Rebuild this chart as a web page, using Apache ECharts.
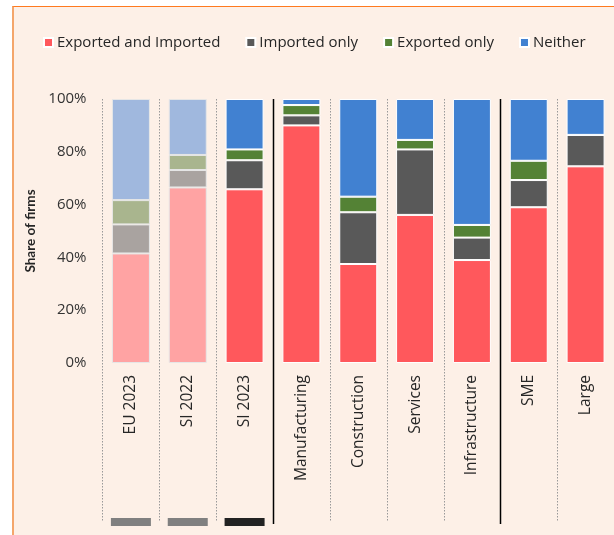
<!DOCTYPE html>
<html>
<head>
<meta charset="utf-8">
<script src="https://cdn.jsdelivr.net/npm/echarts@6/dist/echarts.min.js"></script>
<style>
  html, body { margin: 0; padding: 0; background: #ffffff; }
  #frame { position: absolute; left: 12px; top: 6px; width: 600px; height: 529px;
           background: #FDF0E7; border-top: 1px solid #FF7A1F; border-left: 2px solid #F4A66B; }
  #chart { position: absolute; left: 0; top: 0; width: 614px; height: 535px; }
</style>
</head>
<body>
<div id="frame"></div>
<div id="chart"></div>
<script>
// ---- data (shares of firms, %) ----
const categories = ['EU 2023', 'SI 2022', 'SI 2023', 'Manufacturing', 'Construction', 'Services', 'Infrastructure', 'SME', 'Large'];
const seriesNames = ['Exported and Imported', 'Imported only', 'Exported only', 'Neither'];
const exportedAndImported = [41.5, 66.5, 65.8, 90.0, 37.5, 56.1, 39.0, 59.0, 74.5];
const importedOnly        = [11.0,  6.6, 11.0,  3.8, 19.6, 24.8,  8.5, 10.3, 11.9];
const exportedOnly        = [ 9.2,  5.7,  4.1,  3.9,  5.9,  3.6,  4.8,  7.3,  0.0];
const neither             = [38.3, 21.2, 19.1,  2.3, 37.0, 15.5, 47.7, 23.4, 13.6];
const yTicks = [0, 20, 40, 60, 80, 100];
// category boundaries: solid group separators before these indices
const groupStarts = [3, 7];
// highlighted comparison columns (bottom markers)
const markerIdx = [0, 1, 2];
// faded (comparison) columns
const fadedIdx = [0, 1];

const colors = ['#FF585C', '#595959', '#548235', '#4181D1'];
const fadedColors = ['#FFA3A3', '#A9A3A0', '#A9B58E', '#A0B8DE'];
const markerColors = ['#808080', '#808080', '#222222'];

const values = [exportedAndImported, importedOnly, exportedOnly, neither];
const FONT = 'Open Sans';

const barSeries = values.map((arr, s) => ({
  name: seriesNames[s],
  type: 'bar',
  stack: 'total',
  xAxisIndex: 0, yAxisIndex: 0,
  barWidth: 38,
  itemStyle: { color: colors[s], borderColor: '#ffffff', borderWidth: 1 },
  data: arr.map((v, i) => fadedIdx.includes(i)
    ? { value: v, itemStyle: { color: fadedColors[s], borderColor: '#E6E6E6' } }
    : v)
}));

const separatorSeries = {
  type: 'custom',
  xAxisIndex: 1, yAxisIndex: 1,
  silent: true,
  clip: false,
  data: categories.map((c, i) => [i]),
  renderItem: function (params, api) {
    const idx = api.value(0);
    const band = api.size([1, 0])[0];
    const top = api.coord([idx, 1]);
    const bot = api.coord([idx, 0]);
    const x = Math.round(top[0] - band / 2) + 0.5;
    const solid = groupStarts.includes(idx);
    return {
      type: 'line',
      shape: { x1: x, y1: top[1], x2: x, y2: solid ? bot[1] + 2 : bot[1] },
      style: solid
        ? { stroke: '#000000', lineWidth: 1.5 }
        : { stroke: '#999999', lineWidth: 1, lineDash: [1.5, 1.5] }
    };
  }
};

const markerSeries = {
  type: 'custom',
  xAxisIndex: 1, yAxisIndex: 1,
  silent: true,
  clip: false,
  data: markerIdx.map(i => [i]),
  renderItem: function (params, api) {
    const idx = api.value(0);
    const bot = api.coord([idx, 0]);
    return {
      type: 'rect',
      shape: { x: bot[0] - 20, y: bot[1] - 4, width: 40, height: 8 },
      style: { fill: markerColors[params.dataIndex] }
    };
  }
};

const chart = echarts.init(document.getElementById('chart'), null, { renderer: 'canvas' });
chart.setOption({
  backgroundColor: 'transparent',
  animation: false,
  textStyle: { fontFamily: FONT },
  legend: {
    data: seriesNames,
    left: 38, top: 30,
    icon: 'rect',
    itemWidth: 9, itemHeight: 9,
    itemGap: 25,
    textStyle: { fontFamily: FONT, fontSize: 15, color: '#262626', padding: [0, 0, 0, -1] }
  },
  grid: [
    { left: 102.5, top: 99, width: 516, height: 264 },
    { left: 102.5, top: 99, width: 516, height: 423 }
  ],
  xAxis: [
    {
      type: 'category', gridIndex: 0, data: categories,
      axisLine: { show: false }, axisTick: { show: false },
      axisLabel: { rotate: 90, margin: 12, fontSize: 15.5, color: '#262626', fontFamily: FONT, interval: 0 }
    },
    { type: 'category', gridIndex: 1, data: categories, show: false }
  ],
  yAxis: [
    {
      type: 'value', gridIndex: 0, min: 0, max: 100, interval: 20,
      name: 'Share of firms', nameLocation: 'middle', nameGap: 61, nameRotate: 90,
      nameTextStyle: { fontFamily: 'Lato', fontSize: 13.5, fontWeight: 'bold', color: '#262626' },
      axisLine: { show: false }, axisTick: { show: false }, splitLine: { show: false },
      axisLabel: { margin: 16, fontSize: 15, color: '#333333', fontFamily: FONT,
        formatter: v => yTicks.includes(v) ? v + '%' : '' }
    },
    { type: 'value', gridIndex: 1, min: 0, max: 1, show: false }
  ],
  series: [separatorSeries, markerSeries, ...barSeries]
});
</script>
</body>
</html>
